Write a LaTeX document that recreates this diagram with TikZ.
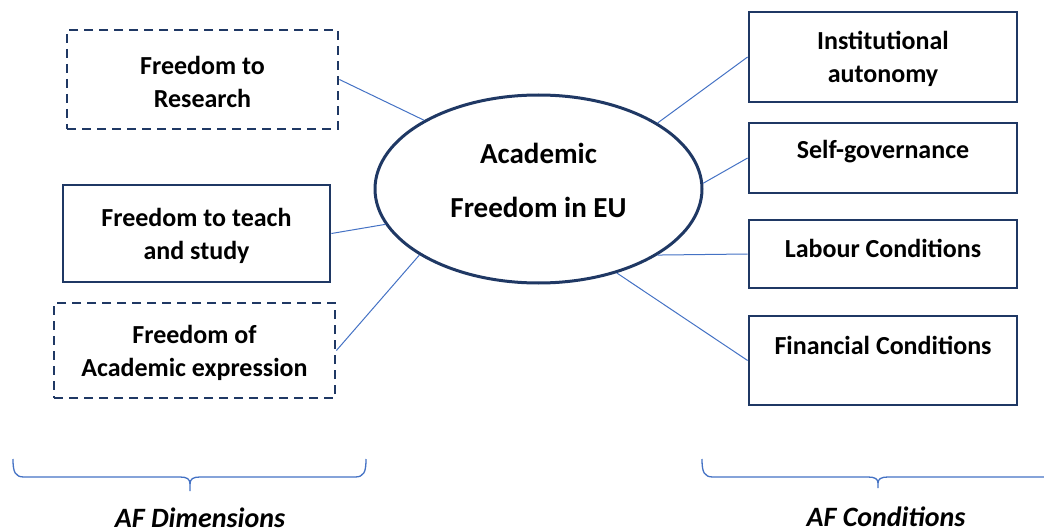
\documentclass[tikz,border=0pt]{standalone}
\usepackage{fontspec}
\setmainfont{Carlito}
\usetikzlibrary{shapes.geometric}
\definecolor{navy}{HTML}{1F3864}
\definecolor{link}{HTML}{4472C4}
\begin{document}
\begin{tikzpicture}[x=1pt,y=-1pt,
  txt/.style={font=\fontsize{26}{33}\selectfont\bfseries, align=center, text=black},
  box/.style={draw=navy, line width=2.8pt, fill=white, inner sep=0pt, rectangle},
  dbox/.style={box, dash pattern=on 9pt off 6pt},
  hub/.style={draw=navy, line width=3pt, fill=white, ellipse, inner sep=0pt},
  conn/.style={draw=link, line width=1pt},
  brace/.style={draw=link, line width=1.3pt},
  caption/.style={font=\fontsize{28}{34}\selectfont\bfseries\itshape, text=black, anchor=base, inner sep=0pt}
]
\useasboundingbox (0,0) rectangle (1044,532);
\clip (0,0) rectangle (1044,532);

% hub
\node[hub, minimum width=327pt, minimum height=188pt,
  label={[font=\fontsize{29}{54}\selectfont\bfseries, align=center, yshift=9pt]center:Academic\\Freedom in EU}]
  (af) at (538.5,189) {};

% left boxes
\node[dbox, minimum width=271pt, minimum height=99pt,
  label={[txt, yshift=-2.5pt]center:Freedom to\\Research}] (research) at (202.5,79.5) {};
\node[box, minimum width=267pt, minimum height=97pt,
  label={[txt, yshift=-2pt]center:Freedom to teach\\and study}] (teach) at (196.5,233.5) {};
\node[dbox, minimum width=281pt, minimum height=95pt,
  label={[txt, yshift=-2pt]center:Freedom of\\Academic expression}] (express) at (194.5,350.5) {};

% right boxes
\node[box, minimum width=268pt, minimum height=90pt,
  label={[txt, yshift=-1.5pt]center:Institutional\\autonomy}] (inst) at (883,57) {};
\node[box, minimum width=268pt, minimum height=70pt,
  label={[txt, yshift=6pt]center:Self-governance}] (selfgov) at (883,158) {};
\node[box, minimum width=268pt, minimum height=68pt,
  label={[txt, yshift=6pt]center:Labour Conditions}] (labour) at (883,254) {};
\node[box, minimum width=268pt, minimum height=89pt,
  label={[txt, yshift=15.5pt]center:Financial Conditions}] (finance) at (883,360.5) {};

% connectors
\draw[conn] (research.east) -- (af.149.9);
\draw[conn] (teach.east) -- (af.193.9);
\draw[conn] (express.east) -- (af.209.7);
\draw[conn] (inst.west) -- (af.29.7);
\draw[conn] (selfgov.west) -- (af.2.8);
\draw[conn] (labour.west) -- (af.-29.7);
\draw[conn] (finance.west) -- (af.-47.6);

% braces
\draw[brace] (13,459) .. controls (13,472) and (15,477) .. (24,477) -- (180,477)
  .. controls (187,477) and (190,479) .. (190,484) -- (190,491);
\draw[brace] (190,484) .. controls (190,479) and (193,477) .. (200,477) -- (355,477)
  .. controls (364,477) and (366,472) .. (366,459);
\draw[brace] (702,459) .. controls (702,472) and (704,477) .. (713,477) -- (868,477)
  .. controls (875,477) and (878,479) .. (878,483) -- (878,488);
\draw[brace] (878,483) .. controls (878,479) and (881,477) .. (888,477) -- (1045,477)
  .. controls (1054,477) and (1056,472) .. (1056,459);

% captions
\node[caption] (dimlab) at (200,527) {AF Dimensions};
\node[caption] (condlab) at (886,526) {AF Conditions};
\end{tikzpicture}
\end{document}
